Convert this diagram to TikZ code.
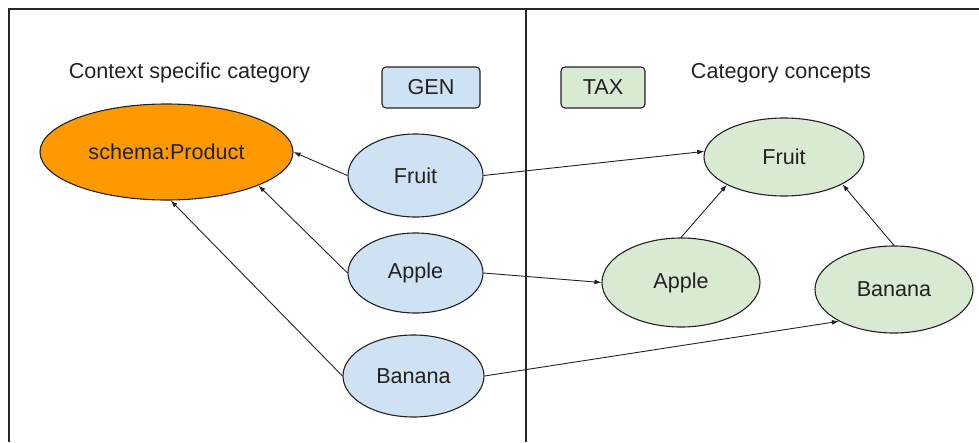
\documentclass[tikz,border=0pt]{standalone}
\usepackage{fontspec}
\setmainfont{Liberation Sans}
\usetikzlibrary{shapes.geometric,arrows.meta}
\definecolor{genblue}{HTML}{CFE2F3}
\definecolor{taxgreen}{HTML}{D9EAD3}
\definecolor{prodorange}{HTML}{FF9900}
\definecolor{ink}{HTML}{222222}
\begin{document}
\begin{tikzpicture}[x=1pt,y=-1pt,
  every node/.style={font=\fontsize{21.6}{26}\selectfont, text=ink},
  concept/.style={ellipse, draw=ink, line width=1.1pt, inner sep=0pt},
  genconcept/.style={concept, fill=genblue},
  taxconcept/.style={concept, fill=taxgreen},
  tagbox/.style={rectangle, rounded corners=4pt, draw=ink, line width=1.1pt,
    inner sep=0pt, minimum height=41pt},
  link/.style={-{Latex[length=7pt,width=5pt]}, line width=0.9pt, draw=ink},
  frame/.style={line width=1.5pt, draw=black!85}]
  \useasboundingbox (0,0) rectangle (979,442);

  % panel frame and divider
  \draw[frame] (9,442) -- (9,9) -- (979,9);
  \draw[frame] (526,9) -- (526,442);

  % headings and tags
  \node (ctxhead) at (189.5,73) {Context specific category};
  \node (cathead) at (781,73) {Category concepts};
  \node[tagbox, fill=genblue, minimum width=98pt] (gen) at (431,87.5) {GEN};
  \node[tagbox, fill=taxgreen, minimum width=84pt] (tax) at (603,87.5) {TAX};

  % context side
  \node[concept, fill=prodorange, minimum width=253pt, minimum height=96pt]
    (prod) at (166.5,152) {schema:Product};
  \node[genconcept, minimum width=135pt, minimum height=83pt] (fruitL) at (415.5,175.5) {Fruit};
  \node[genconcept, minimum width=135pt, minimum height=80pt] (appleL) at (415.5,273) {Apple};
  \node[genconcept, minimum width=141pt, minimum height=82pt] (bananaL) at (413.5,376) {Banana};

  % taxonomy side
  \node[taxconcept, minimum width=160pt, minimum height=78pt] (fruitR) at (784,157) {Fruit};
  \node[taxconcept, minimum width=158pt, minimum height=89pt] (appleR) at (681,282.5) {Apple};
  \node[taxconcept, minimum width=158pt, minimum height=87pt] (bananaR) at (894,289.5) {Banana};

  % links to the product category
  \draw[link] (fruitL.west) -- (prod.east);
  \draw[link] (appleL.west) -- (prod.-20);
  \draw[link] (bananaL.west) -- (prod.-85);

  % links across to the taxonomy
  \draw[link] (fruitL.east) -- (fruitR.176);
  \draw[link] (appleL.east) -- (appleR.west);
  \draw[link] (bananaL.east) -- (bananaR.210);

  % taxonomy hierarchy
  \draw[link] (appleR.north) -- (fruitR.206);
  \draw[link] (bananaR.north) -- (fruitR.335);
\end{tikzpicture}
\end{document}
